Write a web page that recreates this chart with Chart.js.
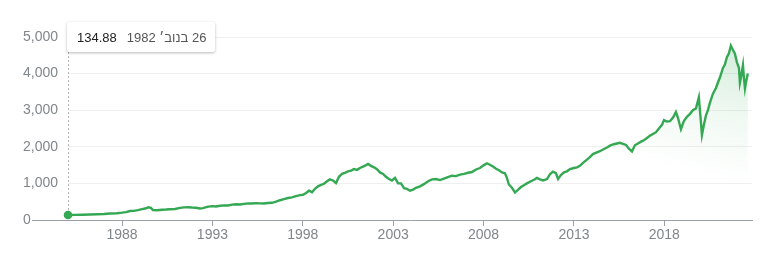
<!DOCTYPE html>
<html>
<head>
<meta charset="utf-8">
<script src="https://cdn.jsdelivr.net/npm/chart.js@4"></script>
<style>
    body { margin: 0; background: #fff; }
    #wrap { position: relative; width: 768px; height: 260px; }
    #tip {
        position: absolute;
        top: 22px;
        height: 30px;
        box-sizing: border-box;
        padding: 0 9px 0 10px;
        display: flex;
        align-items: center;
        gap: 10px;
        background: #fff;
        border-radius: 2px;
        box-shadow: 0 1px 3px rgba(0, 0, 0, 0.28);
        font-family: "Liberation Sans", Arial, sans-serif;
        font-size: 13px;
        white-space: nowrap;
    }
    #tip .date { color: #555; }
    #tip .val { color: #222; }
</style>
</head>
<body>
<div id="wrap">
    <canvas id="spChart" width="768" height="260"></canvas>
    <div id="tip" dir="rtl"><span class="date">26 בנוב׳ 1982</span><span class="val">134.88</span></div>
</div>
<script>
//----------------------
// Data
//----------------------

const dates = [
    1985.01, 1985.40, 1985.79, 1986.23, 1986.62, 1987.00, 1987.34, 1987.72, 1988.00, 1988.22,
    1988.44, 1988.66, 1988.88, 1989.11, 1989.33, 1989.44, 1989.60, 1989.71, 1989.94, 1990.21,
    1990.43, 1990.65, 1990.93, 1991.21, 1991.43, 1991.65, 1991.87, 1992.09, 1992.31, 1992.48,
    1992.70, 1992.98, 1993.20, 1993.42, 1993.64, 1993.86, 1994.08, 1994.31, 1994.53, 1994.75,
    1994.97, 1995.19, 1995.41, 1995.63, 1995.85, 1996.08, 1996.30, 1996.52, 1996.74, 1996.96,
    1997.18, 1997.40, 1997.62, 1997.85, 1998.01, 1998.18, 1998.34, 1998.51, 1998.67, 1998.84,
    1999.01, 1999.17, 1999.34, 1999.50, 1999.67, 1999.84, 2000.00, 2000.17, 2000.33, 2000.50,
    2000.67, 2000.83, 2001.00, 2001.16, 2001.33, 2001.50, 2001.61, 2001.77, 2001.94, 2002.10,
    2002.27, 2002.44, 2002.60, 2002.77, 2002.93, 2003.10, 2003.27, 2003.43, 2003.60, 2003.76,
    2003.93, 2004.10, 2004.26, 2004.48, 2004.70, 2004.93, 2005.15, 2005.37, 2005.59, 2005.81,
    2006.03, 2006.25, 2006.47, 2006.70, 2006.92, 2007.14, 2007.36, 2007.58, 2007.80, 2008.02,
    2008.19, 2008.35, 2008.52, 2008.69, 2008.85, 2009.02, 2009.18, 2009.29, 2009.40, 2009.57,
    2009.74, 2009.90, 2010.07, 2010.23, 2010.40, 2010.62, 2010.79, 2010.95, 2011.12, 2011.29,
    2011.51, 2011.67, 2011.84, 2012.00, 2012.12, 2012.28, 2012.45, 2012.61, 2012.78, 2013.00,
    2013.17, 2013.33, 2013.50, 2013.72, 2013.88, 2014.05, 2014.27, 2014.44, 2014.66, 2014.83,
    2014.99, 2015.21, 2015.38, 2015.54, 2015.71, 2015.88, 2016.04, 2016.21, 2016.37, 2016.54,
    2016.71, 2016.87, 2017.04, 2017.20, 2017.37, 2017.54, 2017.70, 2017.87, 2017.98, 2018.14,
    2018.31, 2018.48, 2018.64, 2018.75, 2018.92, 2019.08, 2019.25, 2019.42, 2019.58, 2019.75,
    2019.91, 2020.02, 2020.08, 2020.19, 2020.30, 2020.41, 2020.52, 2020.69, 2020.85, 2020.96,
    2021.08, 2021.24, 2021.35, 2021.46, 2021.57, 2021.68, 2021.79, 2021.90, 2022.02, 2022.13,
    2022.18, 2022.24, 2022.35, 2022.40, 2022.46, 2022.51, 2022.62
];

const closes = [
    135, 140, 145, 150, 158, 165, 178, 185, 200, 215,
    245, 250, 270, 295, 320, 345, 330, 270, 265, 280,
    285, 295, 300, 330, 345, 350, 340, 335, 315, 325,
    360, 380, 370, 390, 400, 395, 420, 430, 425, 440,
    455, 450, 460, 455, 450, 465, 470, 500, 540, 570,
    600, 620, 650, 680, 690, 740, 800, 760, 850, 920,
    960, 990, 1060, 1110, 1080, 1010, 1180, 1260, 1290, 1330,
    1350, 1390, 1370, 1420, 1460, 1500, 1530, 1480, 1440, 1390,
    1300, 1260, 1180, 1120, 1080, 1150, 1000, 1000, 870, 850,
    800, 830, 880, 920, 980, 1060, 1110, 1120, 1090, 1130,
    1170, 1210, 1200, 1240, 1260, 1290, 1310, 1380, 1420, 1500,
    1550, 1510, 1460, 1400, 1360, 1300, 1280, 1150, 970, 880,
    750, 820, 900, 950, 1000, 1060, 1100, 1150, 1110, 1080,
    1120, 1250, 1320, 1280, 1120, 1230, 1300, 1330, 1390, 1420,
    1440, 1480, 1560, 1650, 1720, 1800, 1850, 1880, 1940, 1980,
    2030, 2070, 2090, 2110, 2080, 2050, 1950, 1870, 2040, 2090,
    2140, 2180, 2240, 2300, 2350, 2400, 2500, 2600, 2730, 2690,
    2700, 2800, 2950, 2800, 2480, 2700, 2820, 2900, 3000, 3050,
    3350, 2700, 2320, 2600, 2850, 3000, 3200, 3450, 3600, 3750,
    3900, 4150, 4250, 4450, 4550, 4760, 4650, 4550, 4300, 4150,
    3750, 3900, 4230, 3900, 3600, 3750, 4000
];

const yearTicks = [1988, 1993, 1998, 2003, 2008, 2013, 2018];
const valueTicks = [0, 1000, 2000, 3000, 4000, 5000];

//----------------------
// Chart
//----------------------

const green = '#34a853';
const labelFont = { family: '"Liberation Sans", Arial, sans-serif', size: 14 };

// x axis line starts left of the plot, under the "0" label
const axisExtend = {
    id: 'axisExtend',
    afterDraw(chart) {
        const c = chart.ctx;
        const area = chart.chartArea;
        c.save();
        c.strokeStyle = '#9aa0a6';
        c.lineWidth = 1;
        c.beginPath();
        c.moveTo(32, area.bottom + 0.5);
        c.lineTo(area.left, area.bottom + 0.5);
        c.stroke();
        c.restore();
    }
};

// dotted hover line from the tooltip down to the first point
const hoverLine = {
    id: 'hoverLine',
    afterDatasetsDraw(chart) {
        const pt = chart.getDatasetMeta(0).data[0];
        const c = chart.ctx;
        c.save();
        c.strokeStyle = '#b5b5b5';
        c.lineWidth = 1;
        c.setLineDash([2, 2]);
        c.beginPath();
        c.moveTo(Math.round(pt.x) + 0.5, 52);
        c.lineTo(Math.round(pt.x) + 0.5, pt.y - 4);
        c.stroke();
        c.restore();
        document.getElementById('tip').style.left = (Math.round(pt.x) - 1) + 'px';
    }
};

const ctx = document.getElementById('spChart').getContext('2d');
const chart = new Chart(ctx, {
    type: 'line',
    data: {
        datasets: [{
            data: dates.map((d, i) => ({ x: d, y: closes[i] })),
            borderColor: green,
            borderWidth: 2.4,
            tension: 0,
            clip: false,
            pointRadius: (c) => c.dataIndex === 0 ? 4.3 : 0,
            pointBackgroundColor: green,
            pointBorderWidth: 0,
            fill: 'origin',
            backgroundColor: (c) => {
                const g = c.chart.ctx.createLinearGradient(700, 175, 730, 50);
                g.addColorStop(0, 'rgba(52,168,83,0)');
                g.addColorStop(0.5, 'rgba(52,168,83,0.07)');
                g.addColorStop(1, 'rgba(52,168,83,0.2)');
                return g;
            }
        }]
    },
    options: {
        responsive: false,
        animation: false,
        devicePixelRatio: 1,
        layout: { padding: { left: 23, right: 16, top: 37, bottom: 0 } },
        plugins: { legend: { display: false }, tooltip: { enabled: false } },
        scales: {
            x: {
                type: 'linear',
                min: dates[0],
                max: 2022.85,
                afterBuildTicks: (axis) => { axis.ticks = yearTicks.map(v => ({ value: v })); },
                afterFit: (axis) => { axis.height = 40; },
                grid: { drawOnChartArea: false, drawTicks: true, tickLength: 6, color: '#9aa0a6' },
                border: { color: '#9aa0a6' },
                ticks: { color: '#80868b', font: labelFont, padding: 1, maxRotation: 0, callback: (v) => String(v) }
            },
            y: {
                min: 0,
                max: 5000,
                afterBuildTicks: (axis) => { axis.ticks = valueTicks.map(v => ({ value: v })); },
                afterFit: (axis) => { axis.width = 45; },
                grid: { drawTicks: false, color: (c) => c.tick.value === 0 ? 'rgba(0,0,0,0)' : '#efefef' },
                border: { display: false },
                ticks: {
                    color: '#80868b',
                    font: labelFont,
                    crossAlign: 'far',
                    padding: 8,
                    callback: (v) => v.toLocaleString('en-US')
                }
            }
        }
    },
    plugins: [axisExtend, hoverLine]
});
</script>
</body>
</html>
